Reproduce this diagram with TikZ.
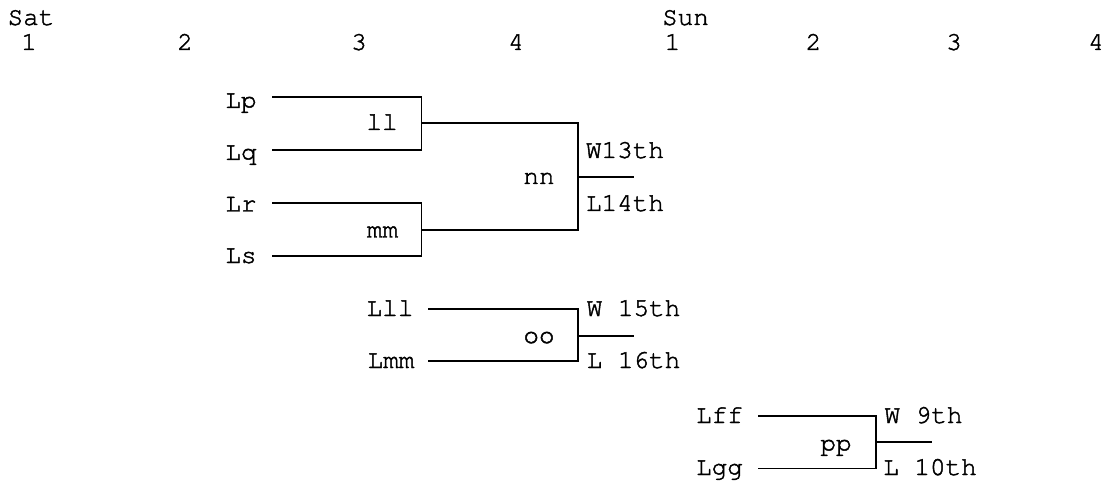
\documentclass[tikz,border=0pt]{standalone}
\usepackage[T1]{fontenc}
\newcommand\bracketmono{\fontencoding{T1}\fontfamily{pcr}\fontseries{m}\fontshape{n}}
\begin{document}
\begin{tikzpicture}[x=1pt,y=-1pt,
  lbl/.style={inner sep=0pt,anchor=base,font=\bracketmono\fontsize{26}{26}\selectfont,
    execute at begin node=\special{pdf:literal direct 2 Tr 0.45 w},
    execute at end node=\special{pdf:literal direct 0 Tr}},
  wire/.style={line width=1.6pt,line cap=rect,black}]
\useasboundingbox[fill=white] (0,0) rectangle (1113,486);
% header
\node[lbl] (sat) at (31,25) {Sat};
\node[lbl] (s1) at (29,50) {1};
\node[lbl] (s2) at (185,50) {2};
\node[lbl] (s3) at (359,50) {3};
\node[lbl] (s4) at (516,50) {4};
\node[lbl] (sun) at (685.5,25) {Sun};
\node[lbl] (u1) at (672.5,50) {1};
\node[lbl] (u2) at (813.5,50) {2};
\node[lbl] (u3) at (954,50) {3};
\node[lbl] (u4) at (1096,50) {4};
% team labels
\node[lbl] (Lp) at (241,108) {Lp};
\node[lbl] (Lq) at (241,160) {Lq};
\node[lbl] (Lr) at (241,211.5) {Lr};
\node[lbl] (Ls) at (241,263) {Ls};
\node[lbl] (ll) at (382,130) {ll};
\node[lbl] (mm) at (382.5,237.5) {mm};
\node[lbl] (nn) at (539,184) {nn};
\node[lbl] (w13) at (625,158) {W13th};
\node[lbl] (l14) at (625,211) {L14th};
\node[lbl] (Lll) at (390,316) {Lll};
\node[lbl] (Lmm) at (391,368) {Lmm};
\node[lbl] (oo) at (539,343) {oo};
\node[lbl] (w15) at (633.5,316) {W 15th};
\node[lbl] (l16) at (633.5,368) {L 16th};
\node[lbl] (Lff) at (719.5,423) {Lff};
\node[lbl] (Lgg) at (719.5,475) {Lgg};
\node[lbl] (pp) at (836,451) {pp};
\node[lbl] (w9) at (923.5,423) {W 9th};
\node[lbl] (l10) at (930,475) {L 10th};
% line coordinates
\coordinate (a1) at (273,97);   \coordinate (a2) at (421.5,97);
\coordinate (b1) at (273,150);  \coordinate (b2) at (421.5,150);
\coordinate (c1) at (273,203);  \coordinate (c2) at (421.5,203);
\coordinate (d1) at (273,256);  \coordinate (d2) at (421.5,256);
\coordinate (llo) at (421.5,123); \coordinate (llt) at (578,123);
\coordinate (mmo) at (421.5,230); \coordinate (mmt) at (578,230);
\coordinate (nno) at (578,177);   \coordinate (nne) at (633,177);
\coordinate (e1) at (429,309);  \coordinate (e2) at (578,309);
\coordinate (f1) at (429,361);  \coordinate (f2) at (578,361);
\coordinate (ooo) at (578,336); \coordinate (ooe) at (633,336);
\coordinate (g1) at (759,416);  \coordinate (g2) at (876,416);
\coordinate (h1) at (759,468.5);\coordinate (h2) at (876,468.5);
\coordinate (ppo) at (876,442); \coordinate (ppe) at (931,442);
% brackets
\draw[wire] (a1) -- (a2) -- (b2) -- (b1);
\draw[wire] (c1) -- (c2) -- (d2) -- (d1);
\draw[wire] (llo) -- (llt) -- (mmt) -- (mmo);
\draw[wire] (nno) -- (nne);
\draw[wire] (e1) -- (e2) -- (f2) -- (f1);
\draw[wire] (ooo) -- (ooe);
\draw[wire] (g1) -- (g2) -- (h2) -- (h1);
\draw[wire] (ppo) -- (ppe);
\end{tikzpicture}
\end{document}
